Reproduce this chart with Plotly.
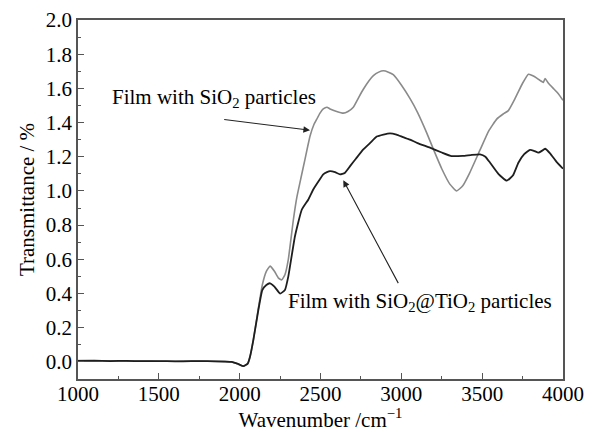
import plotly.graph_objects as go

# Film with SiO2 particles (gray)
w_sio2 = [1000, 1100, 1200, 1300, 1400, 1500, 1600, 1700, 1800, 1900, 1950, 1990, 2023, 2050, 2064, 2085,
          2115, 2140, 2165, 2188, 2215, 2240, 2260, 2280, 2301, 2332, 2353, 2380, 2404, 2435, 2460, 2477,
          2497, 2517, 2540, 2559, 2600, 2641, 2670, 2703, 2735, 2765, 2800, 2827, 2860, 2889, 2920, 2950,
          3000, 3054, 3100, 3157, 3200, 3250, 3300, 3342, 3380, 3420, 3487, 3540, 3590, 3630, 3662, 3703,
          3750, 3786, 3810, 3838, 3860, 3879, 3889, 3910, 3940, 3970, 4000]
t_sio2 = [0.008, 0.007, 0.006, 0.005, 0.005, 0.004, 0.004, 0.005, 0.004, 0.003, 0.0, -0.012, -0.025, -0.01,
          0.03, 0.13, 0.31, 0.45, 0.53, 0.56, 0.53, 0.49, 0.48, 0.51, 0.60, 0.83, 0.96, 1.08, 1.185, 1.32,
          1.39, 1.42, 1.455, 1.48, 1.49, 1.48, 1.465, 1.455, 1.465, 1.49, 1.545, 1.595, 1.645, 1.675, 1.695,
          1.703, 1.695, 1.68, 1.62, 1.54, 1.46, 1.34, 1.24, 1.13, 1.04, 1.0, 1.03, 1.10, 1.24, 1.35, 1.42,
          1.45, 1.47, 1.54, 1.63, 1.683, 1.675, 1.66, 1.645, 1.635, 1.658, 1.63, 1.60, 1.57, 1.53]

# Film with SiO2@TiO2 particles (black)
w_tio2 = [1000, 1100, 1200, 1300, 1400, 1500, 1600, 1700, 1800, 1900, 1950, 1990, 2023, 2050, 2064, 2085,
          2115, 2140, 2165, 2188, 2215, 2250, 2280, 2301, 2342, 2384, 2425, 2456, 2490, 2517, 2540, 2559,
          2590, 2621, 2650, 2683, 2720, 2765, 2806, 2848, 2889, 2930, 2970, 3010, 3054, 3100, 3177, 3250,
          3311, 3380, 3430, 3487, 3520, 3549, 3600, 3652, 3690, 3724, 3760, 3796, 3820, 3848, 3870, 3889,
          3920, 3960, 4000]
t_tio2 = [0.006, 0.007, 0.005, 0.006, 0.004, 0.005, 0.003, 0.004, 0.005, 0.002, 0.0, -0.012, -0.025, -0.01,
          0.03, 0.13, 0.30, 0.42, 0.45, 0.46, 0.44, 0.40, 0.42, 0.50, 0.735, 0.89, 0.95, 1.01, 1.06, 1.097,
          1.11, 1.116, 1.11, 1.097, 1.105, 1.145, 1.19, 1.243, 1.28, 1.318, 1.33, 1.337, 1.33, 1.315, 1.30,
          1.28, 1.253, 1.225, 1.204, 1.205, 1.21, 1.214, 1.20, 1.165, 1.10, 1.06, 1.09, 1.165, 1.215, 1.24,
          1.235, 1.224, 1.235, 1.247, 1.22, 1.17, 1.13]

x_ticks = [1000, 1500, 2000, 2500, 3000, 3500, 4000]
y_ticks = [0.0, 0.2, 0.4, 0.6, 0.8, 1.0, 1.2, 1.4, 1.6, 1.8, 2.0]

FONT = "Liberation Serif"
FS = 21

fig = go.Figure()
fig.add_trace(go.Scatter(x=w_sio2, y=t_sio2, mode="lines",
                         line=dict(color="#8a8a8a", width=1.6, shape="spline", smoothing=0.4),
                         name="SiO2", showlegend=False))
fig.add_trace(go.Scatter(x=w_tio2, y=t_tio2, mode="lines",
                         line=dict(color="#1e1e1e", width=1.8, shape="spline", smoothing=0.4),
                         name="SiO2@TiO2", showlegend=False))

axis_common = dict(showline=True, linecolor="#555555", linewidth=1.5, mirror=True, ticks="inside",
                   tickcolor="#555555", ticklen=6, tickwidth=1.2, showgrid=False, zeroline=False,
                   automargin=False,
                   tickfont=dict(family=FONT, size=FS, color="black"))

fig.update_xaxes(range=[1000, 4000], tickvals=x_ticks, ticktext=[str(v) for v in x_ticks],
                 ticklabelstandoff=-5,
                 minor=dict(dtick=250, tick0=1000, ticks="inside", ticklen=3, tickcolor="#555555"),
                 title=dict(text="Wavenumber /cm<sup>−1</sup>", font=dict(family=FONT, size=FS, color="black"),
                            standoff=2),
                 **axis_common)
fig.update_yaxes(range=[-0.1, 2.0], tickvals=y_ticks, ticktext=[f"{v:.1f}" for v in y_ticks],
                 minor=dict(dtick=0.1, tick0=0, ticks="inside", ticklen=3, tickcolor="#555555"),
                 title=dict(text="Transmittance / %", font=dict(family=FONT, size=FS, color="black"),
                            standoff=5),
                 **axis_common)

fig.add_annotation(x=1844, y=1.545, text="Film with SiO<sub>2</sub> particles", showarrow=False,
                   font=dict(family=FONT, size=FS, color="black"))
fig.add_annotation(x=2435, y=1.355, ax=1895, ay=1.419, axref="x", ayref="y", text="", showarrow=True,
                   arrowhead=2, arrowsize=1.2, arrowwidth=1.1, arrowcolor="#222222")
fig.add_annotation(x=3116, y=0.35, text="Film with SiO<sub>2</sub>@TiO<sub>2</sub> particles", showarrow=False,
                   font=dict(family=FONT, size=FS, color="black"))
fig.add_annotation(x=2641, y=1.062, ax=2986, ay=0.452, axref="x", ayref="y", text="", showarrow=True,
                   arrowhead=2, arrowsize=1.2, arrowwidth=1.1, arrowcolor="#222222")

# page body has an 8px margin, so the figure is 590x424 and margins are offset by 8px
fig.update_layout(width=590, height=424, margin=dict(l=70, r=35, t=12, b=53),
                  plot_bgcolor="white", paper_bgcolor="white")
fig.write_html("out.html")
